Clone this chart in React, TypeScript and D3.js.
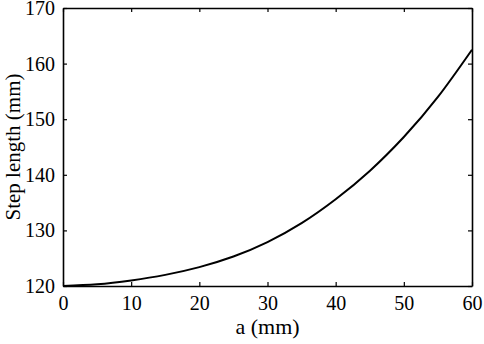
import React, { useEffect, useRef } from "react";
import * as d3 from "d3";

// values, every 5 mm
const aValues = [0, 5, 10, 15, 20, 25, 30, 35, 40, 45, 50, 55, 60];
const stepLength = [120, 120.3, 121.0, 122.0, 123.4, 125.3, 127.9, 131.3, 135.6, 140.7, 146.8, 154.0, 162.5];
const xTicks = [0, 10, 20, 30, 40, 50, 60];
const yTicks = [120, 130, 140, 150, 160, 170];

const W = 484;
const H = 344;
const margin = { top: 8, right: 12, bottom: 58, left: 63 };

function App() {
  const svgRef = useRef<SVGSVGElement>(null);

  useEffect(() => {
    document.body.style.margin = "0";
    const svg = d3.select(svgRef.current);
    svg.selectAll("*").remove();

    const x = d3.scaleLinear().domain([0, 60]).range([margin.left, W - margin.right]);
    const y = d3.scaleLinear().domain([120, 170]).range([H - margin.bottom, margin.top]);

    const font = "'Liberation Serif', 'Times New Roman', serif";

    // axes, ticks pointing inward on all four sides
    const bottom = d3.axisBottom(x).tickValues(xTicks).tickSize(-4).tickSizeOuter(0).tickPadding(10);
    const top = d3.axisTop(x).tickValues(xTicks).tickSize(-4).tickSizeOuter(0).tickFormat(() => "");
    const left = d3.axisLeft(y).tickValues(yTicks).tickSize(-4).tickSizeOuter(0).tickPadding(8);
    const right = d3.axisRight(y).tickValues(yTicks).tickSize(-4).tickSizeOuter(0).tickFormat(() => "");

    const gb = svg.append("g").attr("transform", `translate(0,${H - margin.bottom})`).call(bottom);
    const gt = svg.append("g").attr("transform", `translate(0,${margin.top})`).call(top);
    const gl = svg.append("g").attr("transform", `translate(${margin.left},0)`).call(left);
    const gr = svg.append("g").attr("transform", `translate(${W - margin.right},0)`).call(right);

    [gb, gt, gl, gr].forEach((g) => {
      g.selectAll("path").attr("stroke", "#000").attr("stroke-width", 1.6);
      g.selectAll("line").attr("stroke", "#000").attr("stroke-width", 1.2);
      g.selectAll("text").attr("font-family", font).attr("font-size", 20).attr("fill", "#000");
    });

    // the curve
    const line = d3
      .line<number>()
      .x((_, i) => x(aValues[i]))
      .y((d) => y(d))
      .curve(d3.curveNatural);

    svg
      .append("path")
      .datum(stepLength)
      .attr("d", line)
      .attr("fill", "none")
      .attr("stroke", "#000")
      .attr("stroke-width", 2);

    // axis titles
    svg
      .append("text")
      .attr("x", (margin.left + W - margin.right) / 2)
      .attr("y", 334)
      .attr("text-anchor", "middle")
      .attr("font-family", font)
      .attr("font-size", 22)
      .text("a (mm)");

    svg
      .append("text")
      .attr("transform", `translate(20,${(margin.top + H - margin.bottom) / 2}) rotate(-90)`)
      .attr("text-anchor", "middle")
      .attr("font-family", font)
      .attr("font-size", 21)
      .text("Step length (mm)");
  }, []);

  return <svg ref={svgRef} width={W} height={H} style={{ display: "block", background: "#fff" }} />;
}

export default App;
